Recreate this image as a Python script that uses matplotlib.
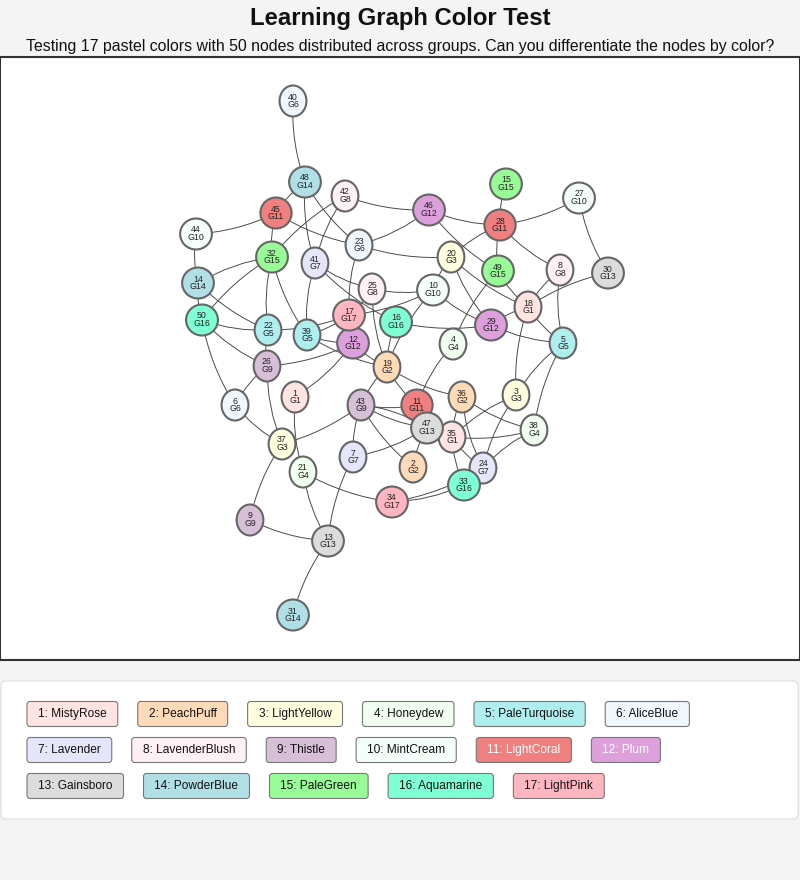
import matplotlib.pyplot as plt
from matplotlib.patches import Ellipse, FancyArrowPatch, FancyBboxPatch, Rectangle

plt.rcParams['font.family'] = ['Liberation Sans', 'DejaVu Sans']

# Palette (group -> colour)
group_names = ['MistyRose', 'PeachPuff', 'LightYellow', 'Honeydew', 'PaleTurquoise', 'AliceBlue',
               'Lavender', 'LavenderBlush', 'Thistle', 'MintCream', 'LightCoral', 'Plum',
               'Gainsboro', 'PowderBlue', 'PaleGreen', 'Aquamarine', 'LightPink']
group_colors = ['#FFE4E1', '#FFDAB9', '#FFFFE0', '#F0FFF0', '#AFEEEE', '#F0F8FF',
                '#E6E6FA', '#FFF0F5', '#D8BFD8', '#F5FFFA', '#F08080', '#DDA0DD',
                '#DCDCDC', '#B0E0E6', '#98FB98', '#7FFFD4', '#FFB6C1']
white_text_groups = [11, 12]

# Nodes: id, group, layout position (pixels)
node_ids = list(range(1, 51))
node_groups = [1, 2, 3, 4, 5, 6, 7, 8, 9, 10, 11, 12, 13, 14, 15, 16, 17,
               1, 2, 3, 4, 5, 6, 7, 8, 9, 10, 11, 12, 13, 14, 15, 16, 17,
               1, 2, 3, 4, 5, 6, 7, 8, 9, 10, 11, 12, 13, 14, 15, 16]
node_x = [295, 413, 516, 453, 563, 235, 353, 560, 250, 433,
          417, 353, 328, 198, 506, 396, 349, 528, 387, 451,
          303, 268, 359, 483, 372, 267, 579, 500, 491, 608,
          293, 272, 464, 392, 452, 462, 282, 534, 307, 293,
          315, 345, 361, 196, 276, 429, 427, 305, 498, 202]
node_y = [397, 467, 395, 344, 343, 405, 457, 270, 520, 290,
          405, 343, 541, 283, 184, 322, 315, 307, 367, 257,
          472, 330, 245, 468, 289, 366, 198, 225, 325, 273,
          615, 257, 485, 502, 437, 397, 444, 430, 335, 101,
          263, 196, 405, 234, 213, 210, 428, 182, 271, 320]

edges = [(40, 48), (48, 45), (48, 41), (48, 23), (42, 32), (42, 41), (42, 46),
         (44, 45), (45, 32), (45, 23), (44, 14), (32, 14), (32, 22), (32, 50),
         (32, 39), (23, 46), (23, 20), (23, 17), (41, 25), (41, 16), (41, 39),
         (14, 50), (14, 22), (50, 22), (50, 26), (50, 6), (22, 17), (22, 26),
         (39, 17), (39, 12), (39, 19), (26, 12), (26, 6), (26, 37), (1, 12),
         (1, 21), (6, 37), (37, 43), (17, 25), (12, 19), (25, 19), (16, 19),
         (16, 29), (19, 43), (19, 11), (25, 10), (17, 10), (10, 19), (46, 28),
         (46, 49), (15, 28), (28, 27), (27, 30), (28, 49), (28, 20), (28, 8),
         (20, 29), (20, 18), (20, 10), (49, 18), (49, 4), (8, 18), (8, 5),
         (30, 18), (18, 29), (18, 5), (18, 3), (10, 29), (29, 5), (5, 3),
         (5, 38), (3, 35), (3, 24), (36, 38), (35, 38), (38, 24), (4, 11),
         (19, 36), (36, 24), (36, 35), (47, 2), (35, 33), (35, 24), (24, 33),
         (34, 33), (34, 24), (43, 47), (43, 47), (43, 11), (43, 2), (43, 7),
         (7, 47), (7, 13), (21, 34), (21, 13), (37, 9), (9, 13), (13, 31),
         (11, 47), (35, 47)]

legend_labels = [f'{i + 1}: {name}' for i, name in enumerate(group_names)]

fig = plt.figure(figsize=(8, 8.8), dpi=100, facecolor='#f4f4f4')
ax = fig.add_axes([0, 0, 1, 1])
ax.set_xlim(0, 800)
ax.set_ylim(880, 0)
ax.axis('off')

# Header
ax.text(400, 19, 'Learning Graph Color Test', ha='center', va='center',
        fontsize=17.2, fontweight='bold', color='#111')
ax.text(400, 46, 'Testing 17 pastel colors with 50 nodes distributed across groups. '
        'Can you differentiate the nodes by color?', ha='center', va='center',
        fontsize=11.45, color='#111')

# Graph panel
ax.add_patch(Rectangle((0, 57), 800, 603, facecolor='white', edgecolor='#333333',
                       linewidth=1.5, zorder=1, clip_on=False))

pos = {n: (x, y) for n, x, y in zip(node_ids, node_x, node_y)}
seen = set()
for a, b in edges:
    key = tuple(sorted((a, b)))
    rad = -0.12 if key in seen else 0.1
    seen.add(key)
    ax.add_patch(FancyArrowPatch(pos[a], pos[b], arrowstyle='-',
                                 connectionstyle=f'arc3,rad={rad}',
                                 color='#4a4a4a', linewidth=0.7,
                                 shrinkA=0, shrinkB=0, zorder=2))

renderer = fig.canvas.get_renderer()
for n, g, x, y in zip(node_ids, node_groups, node_x, node_y):
    top = ax.text(x, y - 4, str(n), ha='center', va='center', fontsize=6.3,
                  color='#222', zorder=4)
    bot = ax.text(x, y + 3.6, f'G{g}', ha='center', va='center', fontsize=6.3,
                  color='#222', zorder=4)
    tw = max(top.get_window_extent(renderer).width, bot.get_window_extent(renderer).width)
    ax.add_patch(Ellipse((x, y), tw + 15, 31, facecolor=group_colors[g - 1],
                         edgecolor='#666666', linewidth=1.5, zorder=3))

# Legend panel
ax.add_patch(FancyBboxPatch((1, 681), 797, 138, boxstyle='round,pad=0,rounding_size=5',
                            facecolor='white', edgecolor='#dddddd', linewidth=0.8, zorder=1))
lx, ly = 27, 714
for i, label in enumerate(legend_labels):
    t = ax.text(0, 0, label, fontsize=8.6, ha='center', va='center', zorder=4,
                color='white' if (i + 1) in white_text_groups else '#111')
    w = t.get_window_extent(renderer).width + 22
    if lx + w > 765:
        lx = 27
        ly += 36
    t.set_position((lx + w / 2, ly))
    ax.add_patch(FancyBboxPatch((lx, ly - 12.5), w, 25, boxstyle='round,pad=0,rounding_size=3',
                                facecolor=group_colors[i], edgecolor='#777777',
                                linewidth=0.8, zorder=3))
    lx += w + 20

fig.savefig('out.png', dpi=100, facecolor=fig.get_facecolor())
